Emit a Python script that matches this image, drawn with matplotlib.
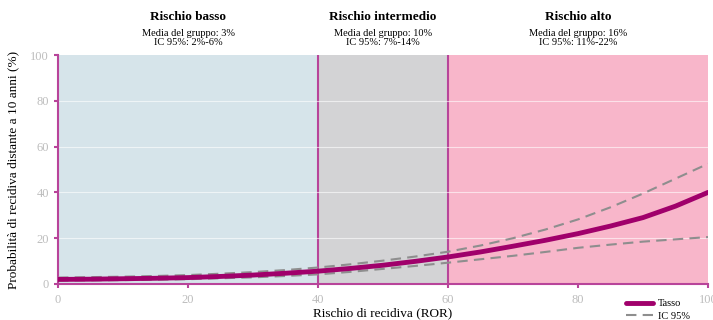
import matplotlib
matplotlib.use("Agg")
import matplotlib.pyplot as plt
import matplotlib.transforms as mtransforms

plt.rcParams['font.family'] = ['Liberation Serif', 'DejaVu Serif']

x = [0, 5, 10, 15, 20, 25, 30, 35, 40, 45, 50, 55, 60, 65, 70, 75, 80, 85, 90, 95, 100]
tasso = [2.0, 2.1, 2.3, 2.5, 2.8, 3.3, 3.9, 4.7, 5.6, 6.8, 8.2, 9.9, 11.8, 14.0,
         16.5, 19.1, 22.0, 25.3, 29.0, 34.0, 40.0]
upper = [2.8, 3.0, 3.2, 3.5, 3.9, 4.5, 5.2, 6.1, 7.2, 8.6, 10.2, 12.0, 14.1, 16.8,
         20.0, 23.8, 28.2, 33.5, 39.5, 46.0, 52.5]
lower = [1.5, 1.6, 1.7, 1.9, 2.1, 2.5, 2.9, 3.5, 4.2, 5.3, 6.6, 7.9, 9.3, 10.8,
         12.3, 14.0, 15.8, 17.2, 18.5, 19.5, 20.5]

zones = [(0, 40), (40, 60), (60, 100)]
zone_colors = ['#d6e4ea', '#d3d3d5', '#f8b6ca']
zone_titles = ['Rischio basso', 'Rischio intermedio', 'Rischio alto']
zone_sub = ['Media del gruppo: 3%\nIC 95%: 2%-6%',
            'Media del gruppo: 10%\nIC 95%: 7%-14%',
            'Media del gruppo: 16%\nIC 95%: 11%-22%']
xticks = [0, 20, 40, 60, 80, 100]
yticks = [0, 20, 40, 60, 80, 100]

mag = '#a0006b'
spine = '#b8449a'

fig = plt.figure(figsize=(7.13, 3.2), dpi=100)
ax = fig.add_axes([58/713, 1-284/320, 650/713, 229/320])

for (a, b), c in zip(zones, zone_colors):
    ax.axvspan(a, b, color=c, lw=0, zorder=0)
for v in [40, 60]:
    ax.axvline(v, color=spine, lw=1.5, zorder=1)
for yv in [20, 40, 60, 80]:
    ax.axhline(yv, color='white', lw=0.8, alpha=0.6, zorder=1)

ax.plot(x, upper, color='#8e8e8e', lw=1.5, ls=(0, (5, 3)), zorder=3, label='IC 95%')
ax.plot(x, lower, color='#8e8e8e', lw=1.5, ls=(0, (5, 3)), zorder=3)
ax.plot(x, tasso, color=mag, lw=3.5, zorder=4, label='Tasso', solid_capstyle='round')

ax.set_xlim(0, 100)
ax.set_ylim(0, 100)
ax.set_xticks(xticks)
ax.set_yticks(yticks)
for s in ['top', 'right']:
    ax.spines[s].set_visible(False)
for s in ['left', 'bottom']:
    ax.spines[s].set_color(spine)
    ax.spines[s].set_linewidth(1.5)
ax.tick_params(axis='both', colors=spine, length=3, width=1.5, labelsize=9,
               labelcolor='#bdbdbd')
ax.tick_params(axis='x', pad=4)
ax.set_xlabel('Rischio di recidiva (ROR)', fontsize=9.5, labelpad=1)
ax.set_ylabel('Probabilità di recidiva distante a 10 anni (%)', fontsize=9.5, labelpad=8)

trans = mtransforms.blended_transform_factory(ax.transData, fig.transFigure)
for (a, b), t, s in zip(zones, zone_titles, zone_sub):
    cx = (a + b) / 2
    fig.text(cx, 1-17/320, t, transform=trans, ha='center', va='center',
             fontsize=9.5, fontweight='bold')
    fig.text(cx, 1-38/320, s, transform=trans, ha='center', va='center',
             fontsize=7.5, linespacing=0.95)

handles, labels = ax.get_legend_handles_labels()
leg = fig.legend(handles[::-1], labels[::-1], loc='upper left',
                 bbox_to_anchor=(626/713, 1-299/320), frameon=False, fontsize=7.5,
                 handlelength=2.6, labelspacing=0.3, handletextpad=0.5,
                 borderpad=0, borderaxespad=0)

fig.savefig('out.png', dpi=100)
